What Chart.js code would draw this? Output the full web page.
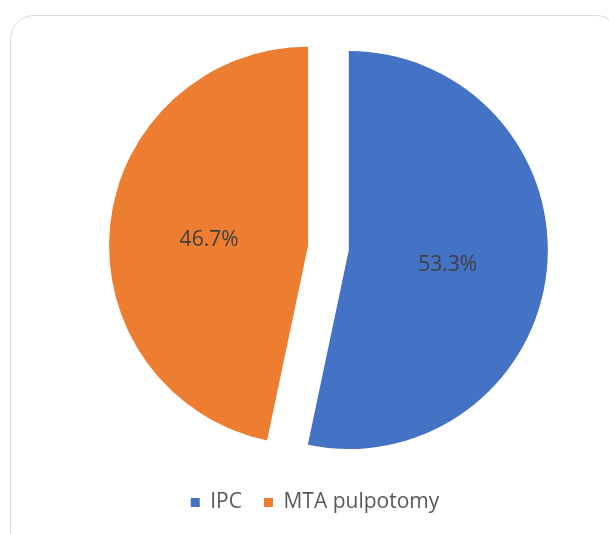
<!DOCTYPE html>
<html>
<head>
<meta charset="utf-8">
<script src="https://cdn.jsdelivr.net/npm/chart.js@4.4.1/dist/chart.umd.min.js"></script>
<style>
  html, body { margin: 0; padding: 0; background: #fff; overflow: hidden; }
  #frame {
    position: absolute; left: 10px; top: 15px; width: 610px; height: 540px;
    border: 1px solid #d9d9d9; border-radius: 24px; box-sizing: border-box;
  }
  #wrap { position: absolute; left: 0; top: 0; width: 609px; height: 534px; }
</style>
</head>
<body>
<div id="frame"></div>
<div id="wrap"><canvas id="pie" width="609" height="534"></canvas></div>
<script>
const categories = ["IPC", "MTA pulpotomy"];
const shares = [53.3, 46.7];
const colors = ["#4472C4", "#ED7D31"];

const pieRadius = 199;

// pull the slices apart along their middle angle (excel style explosion)
const explode = {
  id: "explode",
  afterDatasetsUpdate(chart, args, opts) {
    chart.getDatasetMeta(0).data.forEach((arc, i) => {
      const mid = (arc.startAngle + arc.endAngle) / 2;
      const d = opts.shift[i] || 0;
      arc.x += Math.cos(mid) * d;
      arc.y += Math.sin(mid) * d;
    });
  }
};

// percentage labels at half radius
const sliceLabels = {
  id: "sliceLabels",
  afterDatasetsDraw(chart) {
    const ctx = chart.ctx;
    const meta = chart.getDatasetMeta(0);
    ctx.save();
    ctx.font = "21px 'Open Sans'";
    ctx.fillStyle = "#404040";
    ctx.textAlign = "center";
    ctx.textBaseline = "middle";
    meta.data.forEach((arc, i) => {
      const mid = (arc.startAngle + arc.endAngle) / 2;
      const x = arc.x + Math.cos(mid) * arc.outerRadius / 2;
      const y = arc.y + Math.sin(mid) * arc.outerRadius / 2 + 5;
      ctx.fillText(shares[i].toFixed(1) + "%", x, y);
    });
    ctx.restore();
  }
};

new Chart(document.getElementById("pie"), {
  type: "pie",
  data: {
    labels: categories,
    datasets: [{
      data: shares,
      backgroundColor: colors,
      borderWidth: 0,
      radius: pieRadius
    }]
  },
  options: {
    responsive: false,
    animation: false,
    layout: { padding: { left: 21, right: 0, top: 23, bottom: 11 } },
    plugins: {
      tooltip: { enabled: false },
      explode: { shift: [34, 7] },
      legend: {
        position: "bottom",
        labels: {
          boxWidth: 9,
          boxHeight: 9,
          padding: 22,
          color: "#595959",
          font: { family: "'Open Sans'", size: 21 }
        }
      }
    }
  },
  plugins: [explode, sliceLabels]
});
</script>
</body>
</html>
